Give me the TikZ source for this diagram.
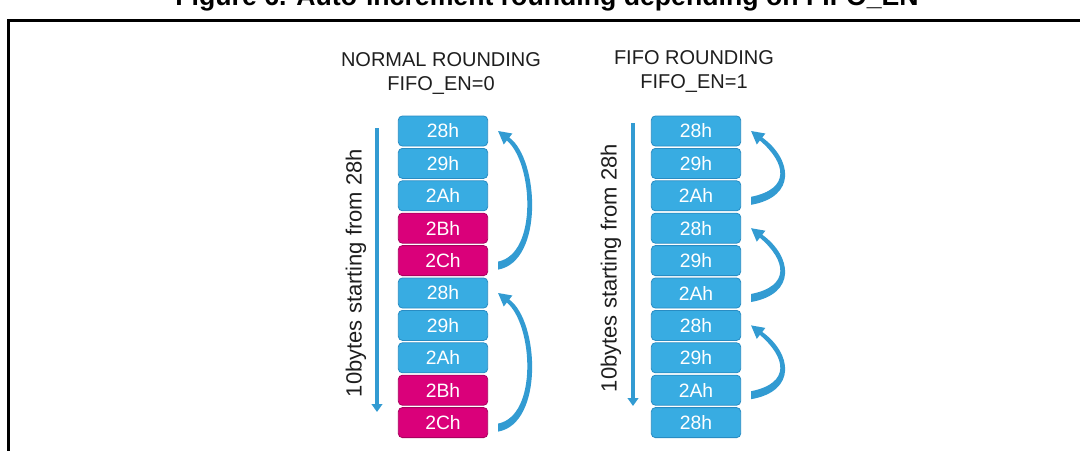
\documentclass[tikz,border=0pt]{standalone}
\usepackage{fontspec}
\setmainfont{Liberation Sans}
\usepackage{tikz}
\usetikzlibrary{arrows.meta,positioning,calc}
\definecolor{stblue}{RGB}{56,172,226}
\definecolor{stblueline}{RGB}{40,140,195}
\definecolor{stmagenta}{RGB}{218,0,122}
\definecolor{stmagline}{RGB}{170,0,95}
\definecolor{starrow}{RGB}{50,155,210}
\definecolor{sttext}{RGB}{30,30,30}
\tikzstyle{bytebox} = [draw=stblueline, fill=stblue, line width=0.6pt, rounded corners=3pt, minimum width=67pt, minimum height=22.5pt, inner sep=0pt, text=white, font=\fontsize{14.5}{16}\selectfont]
\tikzstyle{magbox} = [bytebox, draw=stmagline, fill=stmagenta]
\tikzstyle{countarrow} = [line width=3pt, -{Triangle[width=8pt,length=6pt]}, color=starrow]
\tikzstyle{colhead} = [align=center, text=sttext, font=\fontsize{15}{18}\selectfont]
\tikzstyle{sidelabel} = [rotate=90, text=sttext, font=\fontsize{16.5}{18}\selectfont]
% tapered return arrow from one byte back to another
\newcommand{\wraparrow}[2]{%
  \coordinate (t) at ($(#1.east)+(10,5)$);
  \coordinate (h) at ($(#2.east)+(10,0)$);
  \fill[starrow] ($(t)+(0,4)$) .. controls ($(t)+(46,-4)$) and ($(h)+(41,28)$) .. ($(h)+(11.2,6.5)$)
    -- ($(h)+(14.3,2.5)$) -- (h) -- ($(h)+(5.7,13.5)$) -- ($(h)+(8.8,9.5)$)
    .. controls ($(h)+(35,32)$) and ($(t)+(40,-12)$) .. ($(t)+(0,-4)$) -- cycle;
}

\begin{document}
\begin{tikzpicture}[x=0.75pt, y=-0.75pt]
\useasboundingbox (0,0) rectangle (1080,450);

% frame and cut title
\node[anchor=base, font=\bfseries\fontsize{20}{22}\selectfont] (caption) at (547,5) {Figure 6. Auto-increment rounding depending on FIFO\_EN};
\draw[line width=2.25pt] (8,455) -- (8,20) -- (1085,20);

% normal rounding
\node[colhead] (normal) at (441,74) {NORMAL ROUNDING\\FIFO\_EN=0};
\node[bytebox] (L1) at (443,131) {28h};
\node[bytebox, below=1.2pt of L1] (L2) {29h};
\node[bytebox, below=1.2pt of L2] (L3) {2Ah};
\node[magbox, below=1.2pt of L3] (L4) {2Bh};
\node[magbox, below=1.2pt of L4] (L5) {2Ch};
\node[bytebox, below=1.2pt of L5] (L6) {28h};
\node[bytebox, below=1.2pt of L6] (L7) {29h};
\node[bytebox, below=1.2pt of L7] (L8) {2Ah};
\node[magbox, below=1.2pt of L8] (L9) {2Bh};
\node[magbox, below=1.2pt of L9] (L10) {2Ch};

\coordinate (ltop) at (377,128);
\coordinate (lbot) at (377,412);
\draw[countarrow] (ltop) -- (lbot);
\node[sidelabel] (lcount) at (356,273) {10bytes starting from 28h};

\wraparrow{L5}{L1}
\wraparrow{L10}{L6}

% fifo rounding
\node[colhead] (fifo) at (694,72) {FIFO ROUNDING\\FIFO\_EN=1};
\node[bytebox] (R1) at (696,131) {28h};
\node[bytebox, below=1.2pt of R1] (R2) {29h};
\node[bytebox, below=1.2pt of R2] (R3) {2Ah};
\node[bytebox, below=1.2pt of R3] (R4) {28h};
\node[bytebox, below=1.2pt of R4] (R5) {29h};
\node[bytebox, below=1.2pt of R5] (R6) {2Ah};
\node[bytebox, below=1.2pt of R6] (R7) {28h};
\node[bytebox, below=1.2pt of R7] (R8) {29h};
\node[bytebox, below=1.2pt of R8] (R9) {2Ah};
\node[bytebox, below=1.2pt of R9] (R10) {28h};

\coordinate (rtop) at (633,123);
\coordinate (rbot) at (633,406);
\draw[countarrow] (rtop) -- (rbot);
\node[sidelabel] (rcount) at (611,268) {10bytes starting from 28h};

\wraparrow{R3}{R1}
\wraparrow{R6}{R4}
\wraparrow{R9}{R7}
\end{tikzpicture}
\end{document}
